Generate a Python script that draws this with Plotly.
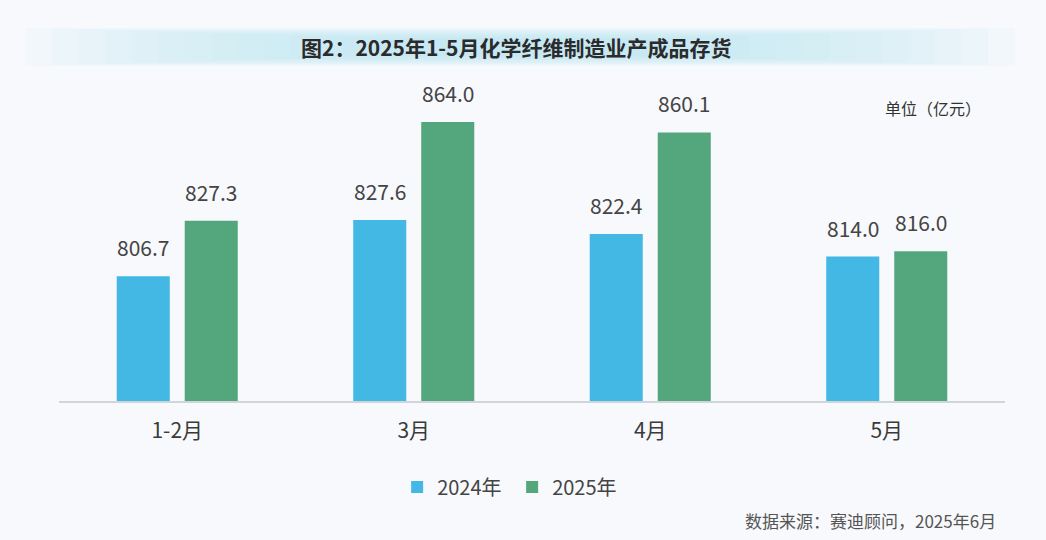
import plotly.graph_objects as go

categories = ["1-2月", "3月", "4月", "5月"]
series_2024 = [806.7, 827.6, 822.4, 814.0]
series_2025 = [827.3, 864.0, 860.1, 816.0]
series_names = ["2024年", "2025年"]

FONT = "Noto Sans CJK SC"
C24 = "#43b8e5"
C25 = "#54a77d"

fig = go.Figure()
fig.add_trace(go.Bar(x=categories, y=series_2024, name=series_names[0], marker_color=C24,
                     marker_line_width=0))
fig.add_trace(go.Bar(x=categories, y=series_2025, name=series_names[1], marker_color=C25,
                     marker_line_width=0))

L, R, T, B = 59, 41, 80, 139
fig.update_layout(
    width=1046, height=540,
    margin=dict(l=L, r=R, t=T, b=B, autoexpand=False),
    paper_bgcolor="#f7f9fc", plot_bgcolor="rgba(0,0,0,0)",
    barmode="group", bargap=0.425, bargroupgap=0.22,
    font=dict(family=FONT, color="#333333"),
    showlegend=True,
    legend=dict(orientation="h", x=0.479, xanchor="center", y=-0.268, yanchor="middle",
                font=dict(size=20, color="#444444"), entrywidth=70, entrywidthmode="pixels",
                bgcolor="rgba(0,0,0,0)", traceorder="normal"),
    xaxis=dict(showline=True, linecolor="#d0d5da", linewidth=1.5, ticks="",
               tickfont=dict(size=21, color="#3a3a3a"), ticklabelstandoff=10,
               showgrid=False, zeroline=False),
    yaxis=dict(range=[760.3, 879.6], showticklabels=False, showgrid=False,
               zeroline=False, showline=False, ticks=""),
)

# value labels above each bar
for vals, shift in ((series_2024, -34), (series_2025, 34)):
    for cat, v in zip(categories, vals):
        fig.add_annotation(x=cat, y=v, text=f"{v:.1f}", xshift=shift, yshift=12,
                           yanchor="bottom", showarrow=False,
                           font=dict(size=21, color="#444444", family=FONT))

# title band (soft gradient imitation)
N = 16
for k in range(N):
    dx = 0.028 * k
    dy = 0.0025 * k
    fig.add_shape(type="rect", xref="paper", yref="paper", x0=-0.035 + dx, x1=1.01 - dx,
                  y0=1.044 + dy, y1=1.162 - dy, fillcolor="#c2e4f4", opacity=0.09,
                  line_width=0, layer="below")

fig.add_annotation(text="<b>图2：2025年1-5月化学纤维制造业产成品存货</b>", xref="paper", yref="paper",
                   x=0.484, y=1.103, xanchor="center", yanchor="middle", showarrow=False,
                   font=dict(size=21, color="#2b2b2b", family=FONT))
fig.add_annotation(text="单位（亿元）", xref="paper", yref="paper", x=0.977, y=0.913,
                   xanchor="right", yanchor="middle", showarrow=False,
                   font=dict(size=16, color="#333333", family=FONT))
fig.add_annotation(text="数据来源：赛迪顾问，2025年6月", xref="paper", yref="paper", x=0.993, y=-0.371,
                   xanchor="right", yanchor="middle", showarrow=False,
                   font=dict(size=17, color="#555555", family=FONT))

fig.write_html("out.html", config={"displayModeBar": False},
               post_script="document.body.style.margin='0px';")
